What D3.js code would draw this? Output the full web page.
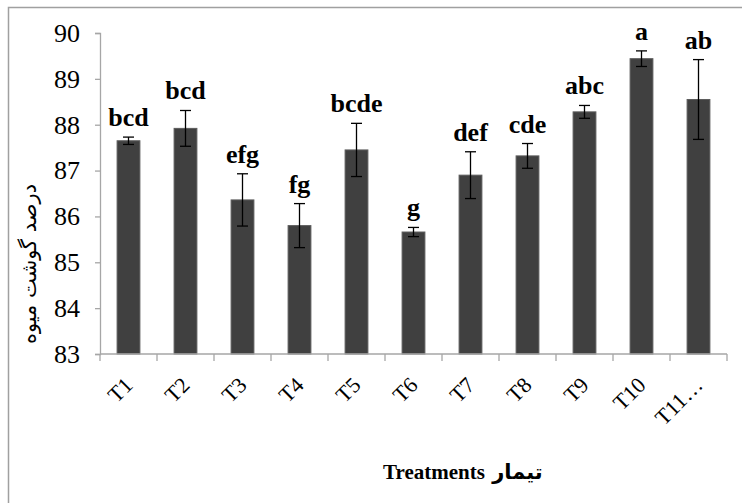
<!DOCTYPE html>
<html>
<head>
<meta charset="utf-8">
<script src="https://cdn.jsdelivr.net/npm/d3@7"></script>
<style>
  html, body { margin: 0; padding: 0; background: #fff; }
  svg { display: block; }
</style>
</head>
<body>
<svg id="chart" width="742" height="503"></svg>
<script>
// Fruit flesh percentage per treatment, with standard errors and Duncan groups
const treatments = ["T1", "T2", "T3", "T4", "T5", "T6", "T7", "T8", "T9", "T10", "T11…"];
const meanValues = [87.65, 87.92, 86.36, 85.80, 87.45, 85.66, 86.90, 87.32, 88.28, 89.44, 88.55];
const errorValues = [0.08, 0.39, 0.57, 0.48, 0.58, 0.10, 0.51, 0.27, 0.14, 0.17, 0.87];
const groupLetters = ["bcd", "bcd", "efg", "fg", "bcde", "g", "def", "cde", "abc", "a", "ab"];
const yTicks = [83, 84, 85, 86, 87, 88, 89, 90];

const rows = treatments.map((t, i) => ({
  name: t, mean: meanValues[i], err: errorValues[i], letter: groupLetters[i]
}));

const svg = d3.select("#chart");
const axisColor = "#a6a6a6";
const serif = "Liberation Serif";
const persian = "DejaVu Sans";

// outer chart frame (runs off the right and bottom edges)
svg.append("rect")
  .attr("x", 8.5).attr("y", 7.5)
  .attr("width", 800).attr("height", 600)
  .attr("fill", "none").attr("stroke", "#a0a0a0").attr("stroke-width", 1.5);

const plot = { left: 100, right: 727, top: 33, bottom: 354 };

const x = d3.scaleBand()
  .domain(treatments)
  .range([plot.left, plot.right])
  .padding(0);

const y = d3.scaleLinear()
  .domain([83, 90])
  .range([plot.bottom, plot.top]);

const barW = x.bandwidth() * 0.4;

// bars
svg.append("g").selectAll("rect")
  .data(rows)
  .join("rect")
  .attr("x", d => x(d.name) + (x.bandwidth() - barW) / 2)
  .attr("y", d => y(d.mean))
  .attr("width", barW)
  .attr("height", d => y(83) - y(d.mean))
  .attr("fill", "#404040")
  .attr("stroke", "#5c5c5c")
  .attr("stroke-width", 1);

// y axis
const yAxis = svg.append("g")
  .attr("transform", `translate(${plot.left},0)`)
  .call(d3.axisLeft(y).tickValues(yTicks).tickSize(5).tickPadding(15).tickFormat(d3.format("d")));
yAxis.select(".domain").attr("stroke", axisColor).attr("stroke-width", 1.3);
yAxis.selectAll(".tick line").attr("stroke", axisColor).attr("stroke-width", 1.3);
yAxis.selectAll(".tick text")
  .style("font-family", serif)
  .style("font-size", "26px")
  .attr("fill", "#000");

// x axis line with ticks at category boundaries
const xAxis = svg.append("g");
xAxis.append("line")
  .attr("x1", plot.left).attr("x2", plot.right)
  .attr("y1", plot.bottom).attr("y2", plot.bottom)
  .attr("stroke", axisColor).attr("stroke-width", 1.3);
const boundaries = treatments.map(t => x(t)).concat([x(treatments[treatments.length - 1]) + x.bandwidth()]);
xAxis.selectAll("line.tk")
  .data(boundaries)
  .join("line")
  .attr("class", "tk")
  .attr("x1", d => d).attr("x2", d => d)
  .attr("y1", plot.bottom).attr("y2", plot.bottom + 7)
  .attr("stroke", axisColor).attr("stroke-width", 1.3);

// rotated category labels
xAxis.selectAll("text")
  .data(treatments)
  .join("text")
  .attr("transform", d => `translate(${x(d) + x.bandwidth() / 2},381) rotate(-45)`)
  .attr("text-anchor", "end")
  .attr("dy", "0.35em")
  .style("font-family", serif)
  .style("font-size", "22px")
  .text(d => d);

// error bars
const eb = svg.append("g").attr("stroke", "#000").attr("stroke-width", 1.3);
rows.forEach(d => {
  const cx = x(d.name) + x.bandwidth() / 2;
  const yt = y(d.mean + d.err), yb = y(d.mean - d.err);
  eb.append("line").attr("x1", cx).attr("x2", cx).attr("y1", yt).attr("y2", yb);
  eb.append("line").attr("x1", cx - 5.5).attr("x2", cx + 5.5).attr("y1", yt).attr("y2", yt);
  eb.append("line").attr("x1", cx - 5.5).attr("x2", cx + 5.5).attr("y1", yb).attr("y2", yb);
});

// significance letters
svg.append("g").selectAll("text")
  .data(rows)
  .join("text")
  .attr("x", d => x(d.name) + x.bandwidth() / 2)
  .attr("y", d => y(d.mean + d.err) - 11)
  .attr("text-anchor", "middle")
  .style("font-family", serif)
  .style("font-size", "26px")
  .style("font-weight", "bold")
  .text(d => d.letter);

// y axis title
svg.append("text")
  .attr("transform", "translate(36,264) rotate(-90)")
  .attr("text-anchor", "middle")
  .style("font-family", persian)
  .style("font-size", "21px")
  .text("درصد گوشت میوه");

// x axis title
const xt = svg.append("text")
  .attr("x", 383).attr("y", 479)
  .style("font-size", "21px")
  .style("font-weight", "bold");
xt.append("tspan").style("font-family", serif).text("Treatments");
xt.append("tspan").style("font-family", persian).text(" تیمار");
</script>
</body>
</html>
